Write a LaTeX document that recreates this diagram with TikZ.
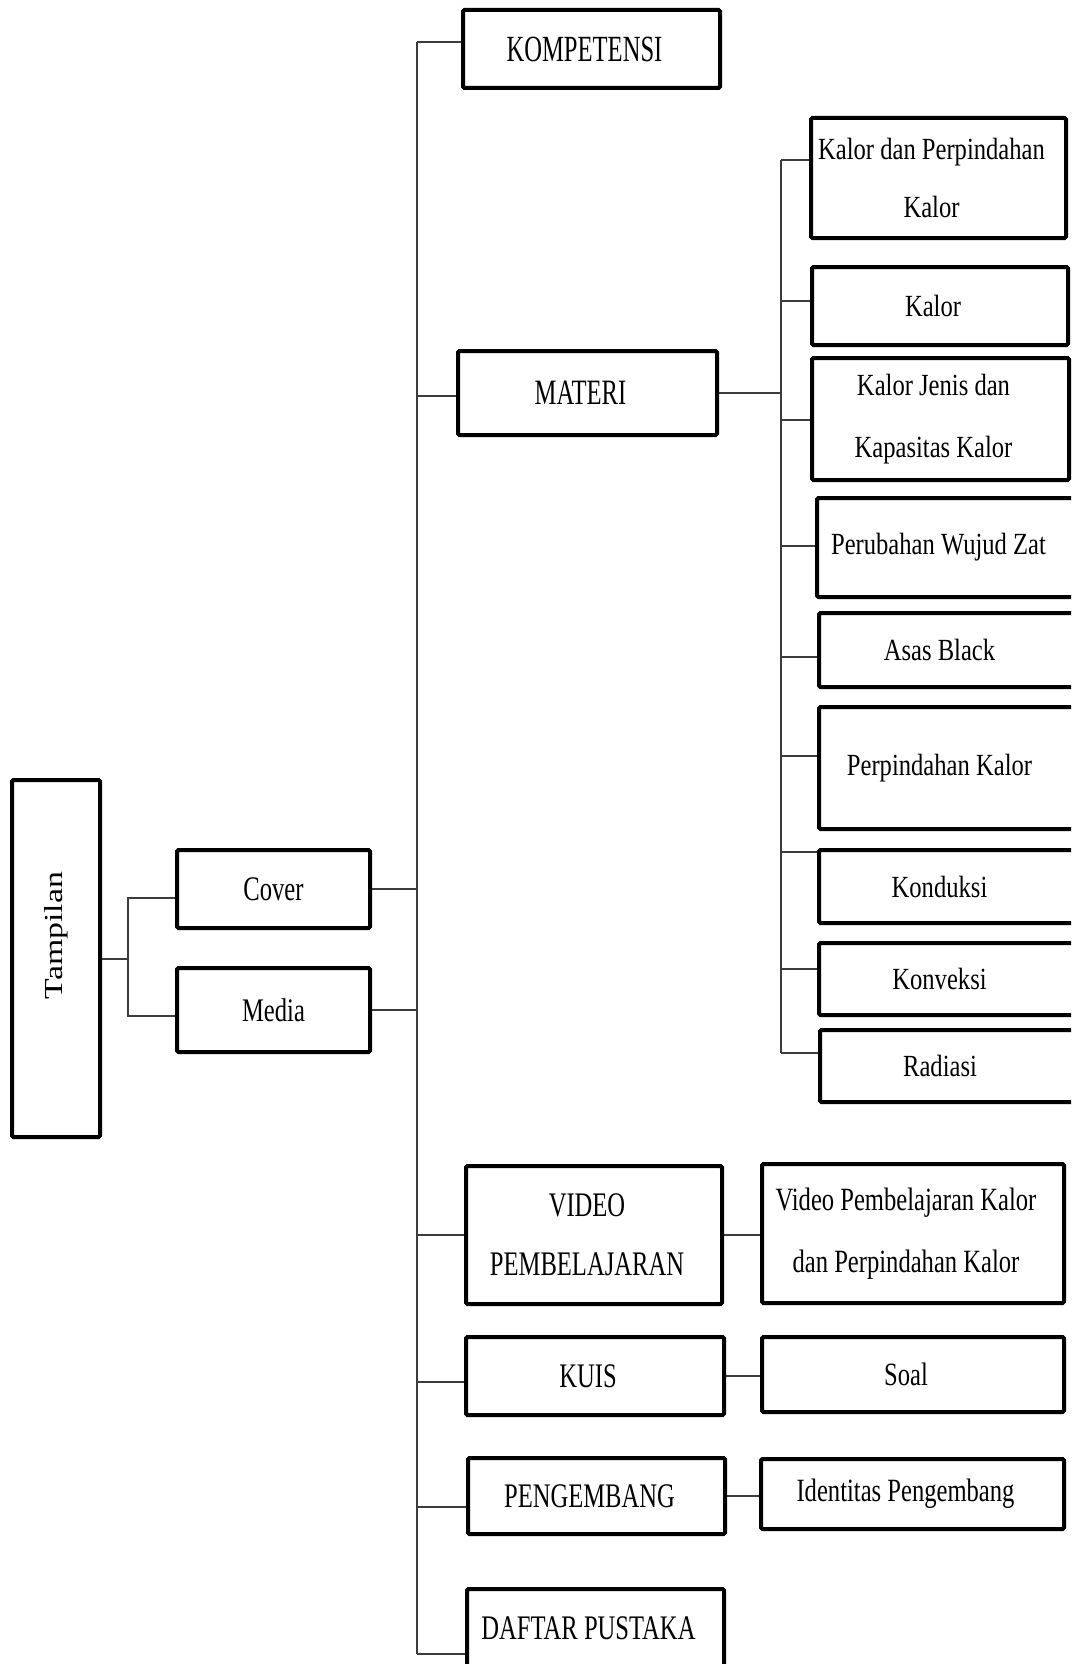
\documentclass[tikz,border=0pt]{standalone}
\usepackage{fontspec}
\setmainfont{Liberation Serif}
\usepackage{graphicx}
\usetikzlibrary{calc,backgrounds}
\definecolor{cLine}{HTML}{3C3C3C}
\newcommand\vstr[2][1.4]{\scalebox{1}[#1]{#2}\hspace*{14pt}}
\tikzset{
  box/.style={draw=black,line width=4pt,rounded corners=1.5pt,inner sep=0pt,
    align=center,font=\fontsize{24.6}{59}\selectfont},
  link/.style={draw=cLine,line width=2pt},
}

\begin{document}
\begin{tikzpicture}[x=1pt,y=-1pt]
  \useasboundingbox (0,0) rectangle (1071,1664);
  \clip (0,0) rectangle (1071,1664);
  % left side
  \node[box,minimum width=88pt,minimum height=357pt,font=\fontsize{26}{30}\selectfont]
    (tampilan) at (56,958.5) {\rotatebox{90}{\hspace*{46pt}\scalebox{1.3}[1]{Tampilan}}};
  \node[box,minimum width=193pt,minimum height=78pt] (cover) at (273.5,889) {\scalebox{1}[1.4]{Cover}};
  \node[box,minimum width=193pt,minimum height=84pt] (media) at (273.5,1010) {\scalebox{1}[1.34]{Media}};
  % main menu
  \node[box,minimum width=257pt,minimum height=78pt] (kompetensi) at (591.5,49) {\vstr[1.5]{KOMPETENSI}};
  \node[box,minimum width=259pt,minimum height=84pt] (materi) at (587.5,393) {\vstr[1.45]{MATERI}};
  \node[box,minimum width=256pt,minimum height=138pt] (video) at (594,1235)
    {\vstr{VIDEO}\\\vstr{PEMBELAJARAN}};
  \node[box,minimum width=258pt,minimum height=78pt] (kuis) at (595,1376) {\vstr{KUIS}};
  \node[box,minimum width=257pt,minimum height=76pt] (pengembang) at (596.5,1496) {\vstr{PENGEMBANG}};
  \node[box,minimum width=257pt,minimum height=79pt] (daftar) at (595.5,1628.5) {\vstr{DAFTAR PUSTAKA}};
  % materi
  \node[box,minimum width=255pt,minimum height=120pt,font=\fontsize{24.6}{58}\selectfont]
    (m1) at (938.5,178) {\vstr[1.25]{Kalor dan Perpindahan}\\\vstr[1.25]{Kalor}};
  \node[box,minimum width=256pt,minimum height=78pt] (m2) at (940,306) {\vstr[1.25]{Kalor}};
  \node[box,minimum width=257pt,minimum height=122pt,font=\fontsize{24.6}{62}\selectfont]
    (m3) at (940.5,419) {\vstr[1.25]{Kalor Jenis dan}\\\vstr[1.25]{Kapasitas Kalor}};
  \node[box,minimum width=257pt,minimum height=99pt] (m4) at (945.5,547.5) {\vstr[1.25]{Perubahan Wujud Zat}};
  \node[box,minimum width=255pt,minimum height=74pt] (m5) at (946.5,650) {\vstr[1.25]{Asas Black}};
  \node[box,minimum width=255pt,minimum height=122pt] (m6) at (946.5,768) {\vstr[1.25]{Perpindahan Kalor}};
  \node[box,minimum width=255pt,minimum height=73pt] (m7) at (946.5,886.5) {\vstr[1.25]{Konduksi}};
  \node[box,minimum width=255pt,minimum height=72pt] (m8) at (946.5,979) {\vstr[1.25]{Konveksi}};
  \node[box,minimum width=254pt,minimum height=72pt] (m9) at (947,1066) {\vstr[1.25]{Radiasi}};
  % sub pages
  \node[box,minimum width=302pt,minimum height=139pt,font=\fontsize{24.6}{62}\selectfont]
    (vidkalor) at (913,1233.5) {\vstr[1.32]{Video Pembelajaran Kalor}\\\vstr[1.32]{dan Perpindahan Kalor}};
  \node[box,minimum width=302pt,minimum height=75pt] (soal) at (913,1374.5) {\vstr[1.32]{Soal}};
  \node[box,minimum width=303pt,minimum height=70pt] (identitas) at (912.5,1494) {\vstr[1.32]{Identitas Pengembang}};

  \coordinate (tb) at (128,0);
  \coordinate (bar) at (417,0);
  \coordinate (mbar) at (781,0);
  \begin{scope}[on background layer]
    \draw[link] (tampilan.east) -- (tampilan.east -| tb);
    \draw[link] ($(cover.west)+(0,9)$) coordinate (sc) -- (sc -| tb)
      -- ($(media.west -| tb)+(0,6)$) -- ($(media.west)+(0,6)$);
    \draw[link] (cover.east) -- (cover.east -| bar);
    \draw[link] (media.east) -- (media.east -| bar);
    \foreach \n/\dy in {kompetensi/-7,materi/3,video/0,kuis/6,pengembang/11,daftar/25}
      \draw[link] ($(\n.west)+(0,\dy)$) coordinate (s\n) -- (s\n -| bar);
    \draw[link] (skompetensi -| bar) -- (sdaftar -| bar);
    \draw[link] (materi.east) -- (materi.east -| mbar);
    \foreach \n/\dy in {m1/-18,m2/-5,m3/1,m4/-2,m5/7,m6/-12,m7/-35,m8/-10,m9/-13}
      \draw[link] ($(\n.west)+(0,\dy)$) coordinate (s\n) -- (s\n -| mbar);
    \draw[link] (sm1 -| mbar) -- (sm9 -| mbar);
    \foreach \a/\b in {video/vidkalor,kuis/soal,pengembang/identitas}
      \draw[link] (\a.east) -- (\a.east -| \b.west);
  \end{scope}
\end{tikzpicture}
\end{document}
